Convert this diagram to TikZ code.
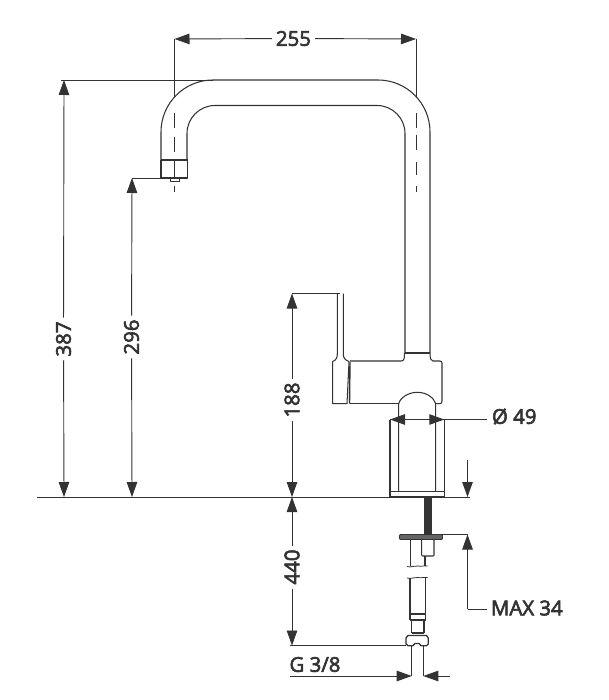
\documentclass[tikz,border=0pt]{standalone}
\usepackage{fontspec}
\setmainfont{Open Sans}
\newfontfamily\dimfont{Open Sans}[FakeBold=3]
\usetikzlibrary{arrows.meta}
\definecolor{ink}{HTML}{333333}
\tikzset{
  part/.style={draw=ink,line width=1.05pt,line join=round},
  thick part/.style={draw=ink,line width=1.4pt},
  dimline/.style={draw=ink,line width=0.9pt},
  dimarrow/.style={dimline,-{Triangle[length=15pt,width=10.5pt]}},
  centreline/.style={draw=ink,line width=0.9pt},
  dimlabel/.style={font=\fontsize{20.4}{20}\selectfont\dimfont,text=ink,inner sep=0pt,outer sep=4pt},
}
\begin{document}
\begin{tikzpicture}[x=1pt,y=-1pt]
\useasboundingbox (0,0) rectangle (608,700);
\fill[white] (0,0) rectangle (608,700);

% ---- named reference points
\coordinate (w1) at (174.5,39);
\coordinate (w2) at (416,39);
\coordinate (w1e) at (174.5,98);
\coordinate (w2e) at (416,98);
\coordinate (top) at (64,80);
\coordinate (topE) at (213,80);
\coordinate (gnd387) at (64,497);
\coordinate (sp) at (132,178);
\coordinate (spE) at (161,178);
\coordinate (gnd296) at (132,497);
\coordinate (lev) at (292,293.5);
\coordinate (levE) at (340,293.5);
\coordinate (gnd188) at (292,497);
\coordinate (bot) at (292,645.5);
\coordinate (botE) at (406,645.5);
\coordinate (gndL) at (37,497);
\coordinate (gndR) at (470,497);
\coordinate (maxT) at (467.5,460);
\coordinate (maxA) at (467.5,497);
\coordinate (maxB) at (467.5,534.5);
\coordinate (maxE) at (442,534.5);
\coordinate (maxK) at (467.5,609);
\coordinate (maxL) at (487,609);

% ---- spout
\draw[part] (161,160) -- (161,132) arc[start angle=180,end angle=270,radius=52] -- (378,80)
  arc[start angle=270,end angle=360,radius=52] -- (430,353);
\draw[part] (187,160) -- (187,133.5) arc[start angle=180,end angle=270,radius=28] -- (377,105.5)
  arc[start angle=270,end angle=360,radius=28] -- (405,353);
\draw[thick part] (161,160) -- (187.5,160);
\draw[part] (161,160) -- (161,178) -- (187.5,178) -- (187.5,160);
\draw[part,line width=0.8pt] (170,178) rectangle (179,181.5);
% centre lines
\foreach \x/\a/\b in {174.5/113/128,174.5/137/152,174.5/161/177,174.5/186/192,
                      416/113/128,416/135/150,416/162/175,416/186/192}
  \draw[centreline] (\x,\a) -- (\x,\b);

% ---- body
\draw[thick part] (404.5,353) -- (430,353);
\draw[part] (350,361) -- (401,361) .. controls (404,361) and (404.5,359) .. (404.5,353);
\draw[part] (430,353) .. controls (430,359) and (431,361) .. (433,361) -- (440,361)
  .. controls (441.5,361) and (442,362) .. (442,363) -- (442,401)
  .. controls (442,403) and (441,403.7) .. (440,403.7) -- (435.7,403.7);
\draw[part] (350,403.7) -- (398.7,403.7);
\draw[part] (398.7,491.7) -- (398.7,403.7) .. controls (400,398) and (408,392.3) .. (417.3,392.3)
  .. controls (427,392.3) and (434,398) .. (435.7,403.7) -- (435.7,491.7);
% ---- lever
\draw[part] (337.3,293.5) -- (337.3,354) .. controls (337.3,358) and (336,360) .. (332.7,361.5)
  -- (332.7,403.7) -- (347,403.7) -- (349,362);
\draw[part] (343.3,293.5) -- (343.3,354) .. controls (343.3,358) and (345,360) .. (349,361.5);
\draw[thick part] (350,361.5) -- (349.5,403.7);

% ---- base
\draw[part] (390,491.7) -- (390,419.5);
\draw[part] (444.3,491.7) -- (444.3,419.5);
\draw[thick part] (398.7,491.7) -- (435.7,491.7);
\draw[part] (390,491.7) rectangle (444.3,497);
\draw[part,line width=1.5pt] (390,497) -- (411.5,497);
\fill[ink] (424,497.3) rectangle (432.3,534.5);
\draw[part,fill=gray!65!ink,line width=0.9pt,rounded corners=1pt] (399.5,534.5) rectangle (442.5,539.5);
% ---- hose, upper part
\draw[part] (410.5,540) -- (410.5,566);
\draw[part,rounded corners=1pt] (421.7,540) -- (421.7,556) -- (434,556) -- (434,540);
\draw[part] (425,556) -- (425,566);
\draw[part,line width=0.8pt] (407,566.5) .. controls (412,568) and (414,565) .. (418,566) .. controls (422,567) and (424,565) .. (427.5,566);
\draw[part,line width=0.8pt] (407,578) .. controls (412,579.5) and (414,576.5) .. (418,577.5) .. controls (422,578.5) and (424,576.5) .. (427.5,577.5);
% ---- hose, lower part
\draw[part] (410,578) -- (410,620);
\draw[part] (425.7,578) -- (425.7,620);
\draw[part] (410,614) -- (425.7,614);
\draw[part] (410,620) -- (425.7,620);
\draw[part] (411.7,620) -- (411.7,633);
\draw[part] (424,620) -- (424,633);
\draw[thick part,line width=1.7pt] (411.7,633) -- (424,633);
% ---- nut and tail
\draw[part,line width=1.3pt] (408,635.5) -- (426.5,635.5) -- (428.3,638) -- (428.3,644) -- (426.5,645.7)
  -- (421,645.7) -- (419,643.5) -- (415,643.5) -- (413,645.7) -- (408,645.7) -- (406,644) -- (406,638) -- cycle;
\draw[part] (411.7,645.7) -- (411.7,676);
\draw[part] (423.3,645.7) -- (423.3,676);

% ---- ground line and extension lines
\draw[dimline] (gndL) -- (412,497);
\draw[dimline] (444,497) -- (gndR);
\draw[dimline] (w1) -- (w1e);
\draw[dimline] (w2) -- (w2e);
\draw[dimline] (61,80) -- (topE);
\draw[dimline] (sp) -- (spE);
\draw[dimline] (lev) -- (levE);
\draw[dimline] (290,645.5) -- (botE);
\draw[dimline] (maxE) -- (maxB);

% ---- dimension labels and arrows
\node[dimlabel] (n255) at (293.5,38.5) {255};
\draw[dimarrow] (n255) -- (w1);
\draw[dimarrow] (n255) -- (w2);

\node[dimlabel,rotate=90] (n387) at (63.5,339) {387};
\draw[dimarrow] (n387) -- (top);
\draw[dimarrow] (n387) -- (gnd387);

\node[dimlabel,rotate=90] (n296) at (131.5,337) {296};
\draw[dimarrow] (n296) -- (sp);
\draw[dimarrow] (n296) -- (gnd296);

\node[dimlabel,rotate=90] (n188) at (292,400) {188};
\draw[dimarrow] (n188) -- (lev);
\draw[dimarrow] (n188) -- (gnd188);

\node[dimlabel,rotate=90] (n440) at (292,567) {440};
\draw[dimarrow] (n440) -- (gnd188);
\draw[dimarrow] (n440) -- (bot);

\node[dimlabel,anchor=west,outer sep=0pt] (nphi) at (492,416.5) {Ø 49};
\coordinate (phiL) at (390,419.5);
\coordinate (phiR) at (444.3,419.5);
\coordinate (phiE) at (487,419.5);
\coordinate (phiA) at (406,419.5);
\coordinate (phiB) at (428,419.5);
\draw[dimline] (phiL) -- (phiE);
\draw[dimarrow] (phiA) -- (phiL);
\draw[dimarrow] (phiB) -- (phiR);

\draw[dimarrow] (maxT) -- (maxA);
\draw[dimarrow] (maxK) -- (maxB);
\node[dimlabel,anchor=west,outer sep=0pt] (nmax) at (491,608) {MAX 34};
\draw[dimline] (maxK) -- (maxL);

\node[dimlabel,anchor=center,outer sep=0pt] (ng) at (315,664.5) {G 3/8};
\coordinate (gL) at (411.7,676);
\coordinate (gR) at (423.3,676);
\coordinate (gLe) at (290,676);
\coordinate (gRe) at (450,676);
\draw[dimarrow] (gLe) -- (gL);
\draw[dimarrow] (gRe) -- (gR);
\end{tikzpicture}
\end{document}
